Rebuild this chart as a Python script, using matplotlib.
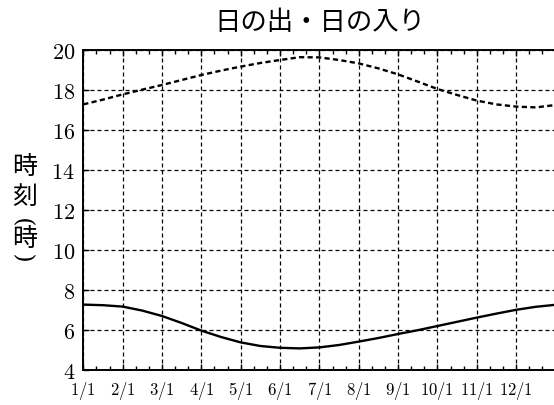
import matplotlib
matplotlib.use("Agg")
import matplotlib.pyplot as plt
from matplotlib.ticker import FixedLocator, MultipleLocator
from matplotlib.textpath import TextPath
from matplotlib.patches import PathPatch
from matplotlib.transforms import Affine2D, IdentityTransform
from matplotlib.font_manager import FontProperties

# month index (0 = 1/1, 12 = next 1/1), read every half month
months = [i * 0.5 for i in range(25)]
sunrise = [7.27, 7.24, 7.17, 6.97, 6.70, 6.35, 5.97, 5.65, 5.38, 5.20,
           5.11, 5.08, 5.13, 5.25, 5.42, 5.60, 5.80, 5.99, 6.20, 6.41,
           6.62, 6.82, 7.01, 7.16, 7.26]
sunset = [17.28, 17.52, 17.78, 18.02, 18.25, 18.50, 18.75, 18.97, 19.17, 19.35,
          19.50, 19.64, 19.63, 19.50, 19.33, 19.08, 18.78, 18.42, 18.05, 17.75,
          17.47, 17.28, 17.17, 17.13, 17.25]

tick_labels = ["1/1", "2/1", "3/1", "4/1", "5/1", "6/1",
               "7/1", "8/1", "9/1", "10/1", "11/1", "12/1"]
y_ticks = list(range(4, 21, 2))
ylabel_chars = ["時", "刻", "(", "時", ")"]

plt.rcParams.update({
    "mathtext.fontset": "cm",
    "font.family": ["Noto Sans CJK JP", "DejaVu Sans"],
})

W, H = 554, 405
fig = plt.figure(figsize=(W / 100, H / 100), dpi=100)
left, right, top, bottom = 83.3, 555.5, 50, 370
ax = fig.add_axes([left / W, 1 - bottom / H, (right - left) / W, (bottom - top) / H])

ax.plot(months, sunrise, color="black", lw=1.7, solid_capstyle="butt")
ax.plot(months, sunset, color="black", lw=1.7, linestyle=(0, (2.2, 1.4)))

ax.set_xlim(0, 12)
ax.set_ylim(4, 20)

ax.xaxis.set_major_locator(FixedLocator(range(len(tick_labels))))
ax.set_xticklabels([r"$%s$" % t for t in tick_labels], fontsize=12)
ax.xaxis.set_minor_locator(MultipleLocator(1 / 3))
ax.set_yticks(y_ticks)
ax.set_yticklabels([r"$%d$" % v for v in y_ticks], fontsize=16)

ax.tick_params(axis="x", which="both", direction="in", top=True, pad=7)
ax.tick_params(axis="x", which="major", length=4, width=1)
ax.tick_params(axis="x", which="minor", length=3, width=1)
ax.tick_params(axis="y", which="major", direction="in", length=4, width=1, pad=6)

ax.grid(True, which="major", color="black", lw=0.9, linestyle=(0, (3.2, 2.4)))
for s in ax.spines.values():
    s.set_linewidth(1.4)

fig.text((left + right) / 2 / W, 1 - 23 / H, "日の出・日の入り",
         ha="center", va="center", fontsize=19)

# vertical y label: characters stacked, brackets turned sideways
paren_font = FontProperties(family="DejaVu Serif")
ys = [167, 197, 222, 239, 258]
for ch, yy in zip(ylabel_chars, ys):
    if ch in "()":
        tp = TextPath((0, 0), ch, size=17 * 100 / 72, prop=paren_font)
        p = tp.transformed(Affine2D().rotate_deg(-90))
        ext = p.get_extents()
        p = p.transformed(Affine2D().translate(25 - (ext.x0 + ext.x1) / 2,
                                               (H - yy) - (ext.y0 + ext.y1) / 2))
        fig.add_artist(PathPatch(p, facecolor="black", lw=0,
                                 transform=IdentityTransform()))
    else:
        fig.text(25 / W, 1 - yy / H, ch, ha="center", va="center", fontsize=18)

fig.savefig("out.png", dpi=100)
